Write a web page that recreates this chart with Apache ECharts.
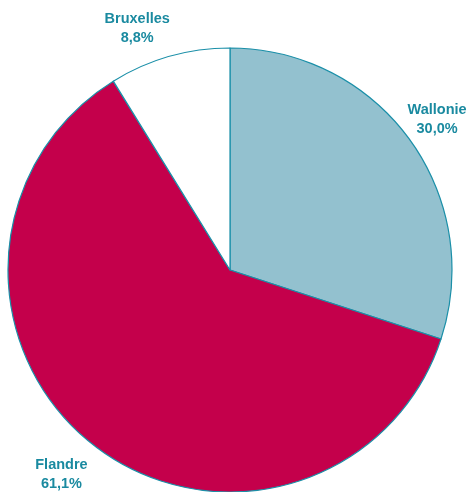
<!DOCTYPE html>
<html>
<head>
<meta charset="utf-8">
<script src="https://cdn.jsdelivr.net/npm/echarts@6/dist/echarts.min.js"></script>
<style>
  html, body { margin: 0; padding: 0; background: #ffffff; }
  #chart { width: 473px; height: 492px; }
</style>
</head>
<body>
<div id="chart"></div>
<script>
// Regional shares, clockwise from the top
const regions = ['Wallonie', 'Flandre', 'Bruxelles'];
const shares = [30.0, 61.1, 8.8];
const colors = ['#93c1cf', '#c4004b', '#ffffff'];

const chart = echarts.init(document.getElementById('chart'), null, { renderer: 'canvas' });

const fmt = v => v.toFixed(1).replace('.', ',') + '%';

// label anchor: angle (deg, clockwise from top) and distance from centre
const labelPlace = [
  { ang: 54, r: 256 },
  { ang: 219.5, r: 265 },
  { ang: -21, r: 259 }
];

chart.setOption({
  animation: false,
  series: [{
    type: 'pie',
    center: [230, 270],
    radius: 222,
    startAngle: 90,
    clockwise: true,
    data: regions.map((name, i) => ({
      name,
      value: shares[i],
      itemStyle: { color: colors[i] }
    })),
    itemStyle: { borderColor: '#1a8fa8', borderWidth: 1.2 },
    label: {
      show: true,
      position: 'outside',
      formatter: p => p.name + '\n' + fmt(p.value),
      color: '#1a8aa0',
      fontFamily: '"Liberation Sans", Arial, sans-serif',
      fontWeight: 'bold',
      fontSize: 14.5,
      lineHeight: 19,
      align: 'center',
      overflow: 'none'
    },
    labelLine: { show: false, length: 20, length2: 0 },
    labelLayout: function (params) {
      const p = labelPlace[params.dataIndex];
      const a = p.ang * Math.PI / 180;
      return {
        x: 230 + p.r * Math.sin(a),
        y: 270 - p.r * Math.cos(a),
        align: 'center',
        verticalAlign: 'middle'
      };
    }
  }]
});
</script>
</body>
</html>
